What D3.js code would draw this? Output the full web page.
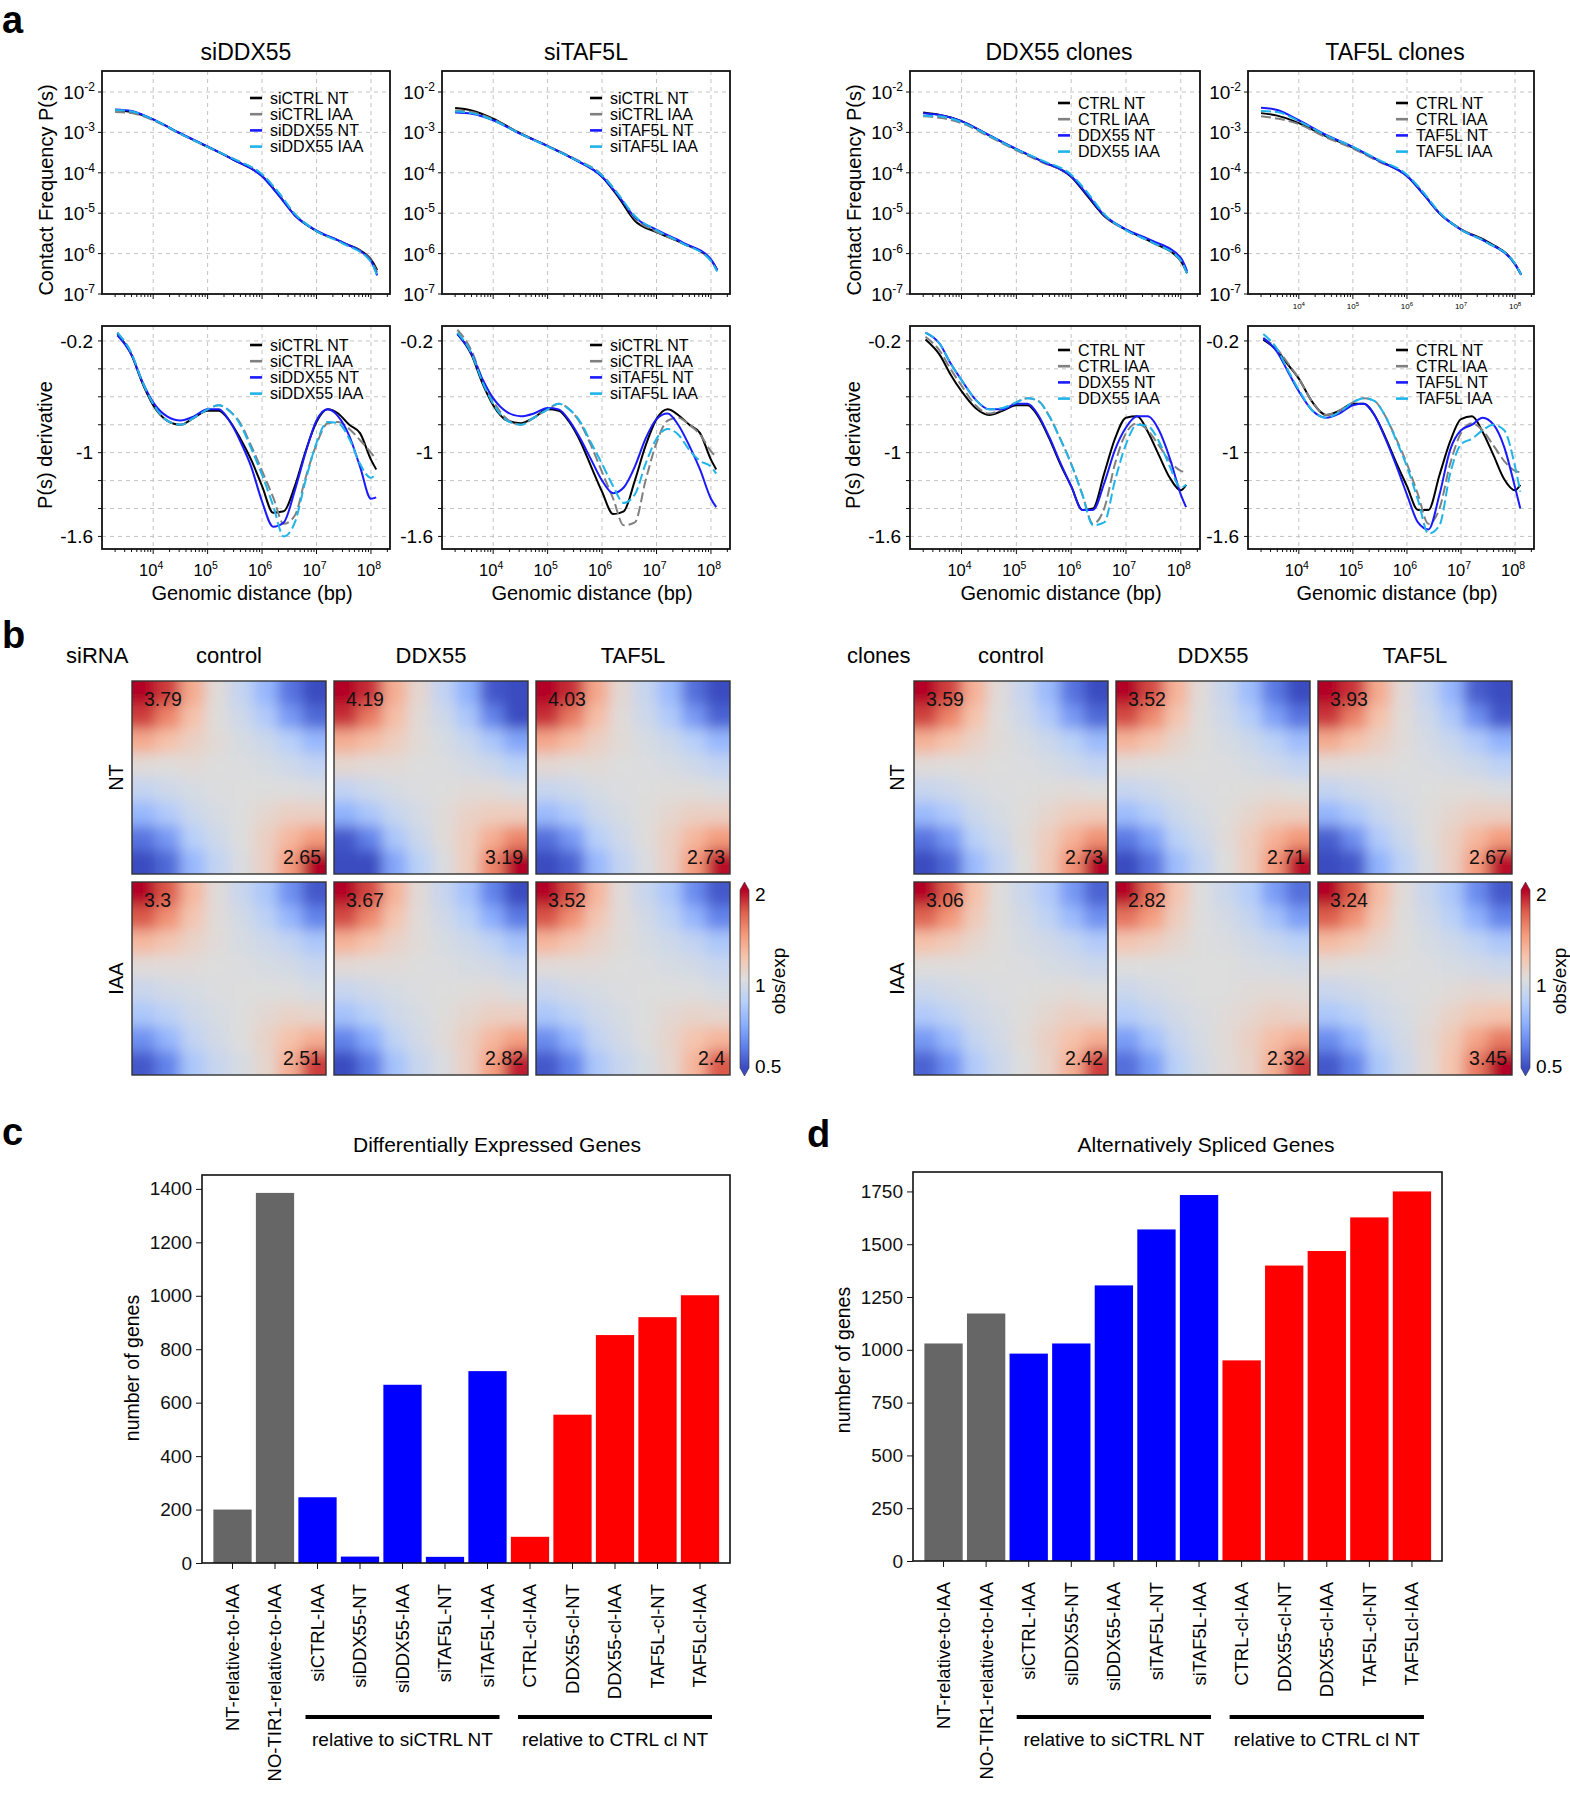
<!DOCTYPE html>
<html><head><meta charset="utf-8">
<script src="https://cdn.jsdelivr.net/npm/d3@7"></script>
<style>body{margin:0;background:#fff}svg{font-family:"Liberation Sans",Arial,Helvetica,sans-serif}</style>
</head><body>
<svg id="fig" width="1570" height="1800"></svg>
<script>
// ---------------- DATA ----------------
// genomic distances (bp) at which P(s) curves were read
const PS_DIST = [2000, 4000, 1e4, 3e4, 1e5, 3e5, 1e6, 2e6, 4e6, 1e7, 3e7, 1e8, 1.3e8];
// genomic distances (bp) at which derivative curves were read
const DER_DIST = [2200, 4000, 6300, 1e4, 1.8e4, 3.2e4, 5.6e4, 1e5, 1.6e5, 2.5e5, 4e5, 6.3e5, 1e6, 1.6e6, 2.5e6, 4e6, 6.3e6, 1e7, 1.6e7, 2.5e7, 4e7, 6.3e7, 1e8, 1.25e8];

const PS_TITLES = ["siDDX55", "siTAF5L", "DDX55 clones", "TAF5L clones"];
const LEGEND_SIDDX55 = ["siCTRL NT", "siCTRL IAA", "siDDX55 NT", "siDDX55 IAA"];
const LEGEND_SITAF5L = ["siCTRL NT", "siCTRL IAA", "siTAF5L NT", "siTAF5L IAA"];
const LEGEND_DDX55_CL = ["CTRL NT", "CTRL IAA", "DDX55 NT", "DDX55 IAA"];
const LEGEND_TAF5L_CL = ["CTRL NT", "CTRL IAA", "TAF5L NT", "TAF5L IAA"];

// contact frequency P(s): [NT ctrl, IAA ctrl, NT kd, IAA kd]
const PS_SIDDX55 = [
  [3.6e-3, 3.2e-3, 2.1e-3, 9.7e-4, 4.4e-4, 2.1e-4, 8.3e-5, 2.9e-5, 8.9e-6, 3.6e-6, 1.9e-6, 7.2e-7, 3.9e-7],
  [3.2e-3, 3.0e-3, 2.0e-3, 9.5e-4, 4.4e-4, 2.2e-4, 9.0e-5, 3.2e-5, 9.5e-6, 3.7e-6, 1.9e-6, 6.8e-7, 3.4e-7],
  [3.7e-3, 3.4e-3, 2.1e-3, 9.8e-4, 4.5e-4, 2.1e-4, 8.2e-5, 2.8e-5, 8.8e-6, 3.7e-6, 1.9e-6, 6.5e-7, 2.9e-7],
  [3.6e-3, 3.3e-3, 2.1e-3, 9.6e-4, 4.4e-4, 2.2e-4, 9.2e-5, 3.3e-5, 9.6e-6, 3.6e-6, 1.8e-6, 6.3e-7, 2.8e-7]];
const PS_SITAF5L = [
  [4.0e-3, 3.5e-3, 2.2e-3, 9.8e-4, 4.6e-4, 2.2e-4, 8.0e-5, 2.5e-5, 6.5e-6, 3.4e-6, 1.8e-6, 7.0e-7, 4.0e-7],
  [3.5e-3, 3.2e-3, 2.1e-3, 9.6e-4, 4.6e-4, 2.3e-4, 8.8e-5, 2.9e-5, 7.5e-6, 3.5e-6, 1.8e-6, 6.8e-7, 3.8e-7],
  [3.1e-3, 2.9e-3, 2.0e-3, 9.5e-4, 4.6e-4, 2.2e-4, 8.0e-5, 2.7e-5, 8.0e-6, 3.9e-6, 1.9e-6, 7.2e-7, 3.9e-7],
  [3.3e-3, 3.0e-3, 2.0e-3, 9.6e-4, 4.5e-4, 2.2e-4, 8.6e-5, 2.9e-5, 8.5e-6, 3.8e-6, 1.8e-6, 6.6e-7, 3.6e-7]];
const PS_DDX55_CL = [
  [3.1e-3, 2.7e-3, 1.9e-3, 8.8e-4, 3.8e-4, 1.9e-4, 8.0e-5, 2.6e-5, 8.5e-6, 3.9e-6, 1.9e-6, 6.5e-7, 3.3e-7],
  [2.5e-3, 2.3e-3, 1.7e-3, 8.2e-4, 3.6e-4, 1.8e-4, 8.5e-5, 3.0e-5, 9.0e-6, 3.8e-6, 1.9e-6, 6.6e-7, 3.3e-7],
  [3.0e-3, 2.7e-3, 1.9e-3, 8.9e-4, 3.9e-4, 1.9e-4, 8.2e-5, 2.8e-5, 9.0e-6, 4.0e-6, 2.1e-6, 7.8e-7, 3.7e-7],
  [2.6e-3, 2.5e-3, 1.8e-3, 8.7e-4, 3.8e-4, 2.0e-4, 9.0e-5, 3.2e-5, 9.5e-6, 3.8e-6, 1.9e-6, 6.8e-7, 3.2e-7]];
const PS_TAF5L_CL = [
  [3.0e-3, 2.6e-3, 1.7e-3, 8.3e-4, 4.2e-4, 2.0e-4, 8.3e-5, 3.0e-5, 1.0e-5, 4.0e-6, 2.0e-6, 5.5e-7, 3.0e-7],
  [2.5e-3, 2.2e-3, 1.6e-3, 7.8e-4, 4.0e-4, 1.9e-4, 8.5e-5, 3.2e-5, 1.0e-5, 4.0e-6, 1.9e-6, 5.5e-7, 3.0e-7],
  [4.1e-3, 3.6e-3, 2.0e-3, 9.0e-4, 4.4e-4, 2.0e-4, 8.3e-5, 3.0e-5, 1.0e-5, 3.9e-6, 1.9e-6, 5.4e-7, 3.0e-7],
  [3.4e-3, 3.2e-3, 1.9e-3, 8.8e-4, 4.4e-4, 2.1e-4, 9.0e-5, 3.3e-5, 1.05e-5, 3.9e-6, 1.9e-6, 5.6e-7, 3.0e-7]];

// P(s) derivative (slope)
const DER_SIDDX55 = [
  [-0.15,-0.30,-0.50,-0.66,-0.77,-0.80,-0.75,-0.70,-0.70,-0.77,-0.90,-1.05,-1.24,-1.43,-1.42,-1.24,-0.99,-0.78,-0.69,-0.72,-0.80,-0.86,-1.05,-1.12],
  [-0.14,-0.29,-0.49,-0.65,-0.77,-0.80,-0.75,-0.69,-0.66,-0.70,-0.79,-0.95,-1.13,-1.32,-1.51,-1.45,-1.18,-0.94,-0.79,-0.78,-0.83,-0.91,-1.00,-1.05],
  [-0.16,-0.30,-0.49,-0.64,-0.74,-0.77,-0.74,-0.69,-0.69,-0.77,-0.92,-1.10,-1.35,-1.53,-1.50,-1.27,-1.00,-0.77,-0.69,-0.74,-0.88,-1.10,-1.33,-1.32],
  [-0.14,-0.29,-0.49,-0.65,-0.77,-0.80,-0.75,-0.69,-0.66,-0.70,-0.80,-0.97,-1.16,-1.38,-1.60,-1.50,-1.20,-0.93,-0.78,-0.79,-0.90,-1.08,-1.18,-1.15]];
const DER_SITAF5L = [
  [-0.15,-0.30,-0.50,-0.66,-0.77,-0.79,-0.75,-0.69,-0.70,-0.78,-0.92,-1.10,-1.28,-1.44,-1.42,-1.20,-0.95,-0.76,-0.69,-0.73,-0.80,-0.86,-1.05,-1.12],
  [-0.12,-0.27,-0.47,-0.63,-0.76,-0.80,-0.75,-0.69,-0.65,-0.69,-0.79,-0.95,-1.14,-1.33,-1.52,-1.50,-1.20,-0.93,-0.77,-0.75,-0.80,-0.87,-0.99,-1.03],
  [-0.15,-0.29,-0.47,-0.61,-0.71,-0.74,-0.72,-0.68,-0.69,-0.77,-0.90,-1.05,-1.20,-1.29,-1.25,-1.10,-0.90,-0.76,-0.72,-0.80,-0.95,-1.12,-1.33,-1.39],
  [-0.14,-0.29,-0.49,-0.65,-0.77,-0.80,-0.75,-0.69,-0.65,-0.69,-0.78,-0.93,-1.08,-1.24,-1.36,-1.30,-1.08,-0.90,-0.83,-0.87,-0.98,-1.06,-1.10,-1.15]];
const DER_DDX55_CL = [
  [-0.19,-0.30,-0.44,-0.56,-0.68,-0.73,-0.70,-0.66,-0.66,-0.74,-0.90,-1.08,-1.24,-1.41,-1.40,-1.15,-0.90,-0.75,-0.74,-0.85,-1.02,-1.18,-1.27,-1.23],
  [-0.17,-0.27,-0.40,-0.52,-0.66,-0.72,-0.69,-0.64,-0.61,-0.63,-0.74,-0.90,-1.08,-1.30,-1.51,-1.40,-1.08,-0.86,-0.79,-0.84,-0.95,-1.06,-1.13,-1.14],
  [-0.14,-0.22,-0.36,-0.48,-0.62,-0.69,-0.69,-0.65,-0.65,-0.73,-0.89,-1.07,-1.24,-1.41,-1.41,-1.22,-0.98,-0.82,-0.74,-0.74,-0.84,-1.04,-1.30,-1.39],
  [-0.14,-0.22,-0.36,-0.48,-0.62,-0.69,-0.68,-0.64,-0.61,-0.63,-0.74,-0.90,-1.08,-1.30,-1.52,-1.50,-1.20,-0.94,-0.80,-0.81,-0.92,-1.10,-1.25,-1.23]];
const DER_TAF5L_CL = [
  [-0.19,-0.27,-0.37,-0.47,-0.64,-0.73,-0.70,-0.65,-0.65,-0.73,-0.89,-1.07,-1.24,-1.41,-1.41,-1.16,-0.92,-0.76,-0.74,-0.85,-1.02,-1.19,-1.27,-1.23],
  [-0.18,-0.26,-0.36,-0.47,-0.64,-0.73,-0.70,-0.64,-0.61,-0.63,-0.74,-0.90,-1.08,-1.30,-1.51,-1.40,-1.08,-0.86,-0.79,-0.84,-0.95,-1.06,-1.13,-1.14],
  [-0.18,-0.28,-0.42,-0.56,-0.70,-0.75,-0.72,-0.66,-0.65,-0.73,-0.90,-1.09,-1.30,-1.50,-1.55,-1.30,-0.98,-0.84,-0.80,-0.75,-0.80,-0.96,-1.25,-1.40],
  [-0.15,-0.26,-0.41,-0.55,-0.70,-0.75,-0.71,-0.64,-0.61,-0.63,-0.74,-0.91,-1.10,-1.34,-1.58,-1.52,-1.15,-0.94,-0.90,-0.84,-0.80,-0.84,-1.10,-1.28]];

// saddle plots (obs/exp), symmetric 8x8 matrices stored as upper triangles (row i, columns i..7)
const SADDLE_SI_NT_CONTROL = [[2.5,1.8,1.32,1.02,0.89,0.74,0.57,0.48],[1.5,1.2,1.01,0.93,0.82,0.65,0.55],[1.1,1.03,0.97,0.92,0.84,0.74],[1.0,0.99,0.97,0.93,0.88],[1.0,1.0,1.0,0.98],[1.05,1.1,1.1],[1.25,1.4],[2.0]];
const SADDLE_SI_NT_DDX55 = [[2.6,1.85,1.3,1.05,0.88,0.72,0.52,0.45],[1.55,1.22,1.03,0.93,0.8,0.6,0.48],[1.12,1.03,0.97,0.9,0.8,0.68],[1.0,0.99,0.96,0.92,0.85],[1.0,1.02,1.02,0.98],[1.08,1.12,1.12],[1.3,1.5],[2.2]];
const SADDLE_SI_NT_TAF5L = [[2.6,1.85,1.34,1.04,0.9,0.75,0.56,0.48],[1.55,1.22,1.02,0.93,0.82,0.65,0.54],[1.1,1.03,0.97,0.92,0.84,0.74],[1.0,0.99,0.97,0.93,0.88],[1.0,1.01,1.01,0.98],[1.05,1.1,1.1],[1.25,1.4],[1.95]];
const SADDLE_SI_IAA_CONTROL = [[2.3,1.7,1.25,1.02,0.91,0.8,0.63,0.52],[1.45,1.17,1.02,0.95,0.86,0.73,0.6],[1.08,1.02,0.97,0.93,0.88,0.8],[1.0,0.99,0.97,0.95,0.9],[1.0,1.0,1.0,0.97],[1.04,1.08,1.06],[1.2,1.3],[1.8]];
const SADDLE_SI_IAA_DDX55 = [[2.45,1.75,1.28,1.03,0.9,0.78,0.6,0.5],[1.48,1.18,1.02,0.94,0.85,0.7,0.58],[1.08,1.02,0.97,0.93,0.87,0.78],[1.0,0.99,0.97,0.95,0.9],[1.0,1.01,1.02,0.98],[1.05,1.1,1.1],[1.25,1.38],[1.9]];
const SADDLE_SI_IAA_TAF5L = [[2.4,1.72,1.26,1.02,0.91,0.8,0.62,0.52],[1.45,1.17,1.02,0.95,0.86,0.73,0.6],[1.08,1.02,0.97,0.93,0.88,0.8],[1.0,0.99,0.97,0.95,0.9],[1.0,1.0,1.0,0.97],[1.04,1.07,1.05],[1.18,1.26],[1.7]];
const SADDLE_CL_NT_CONTROL = [[2.45,1.78,1.28,1.02,0.9,0.75,0.57,0.47],[1.5,1.19,1.01,0.93,0.82,0.65,0.55],[1.08,1.02,0.97,0.92,0.85,0.75],[1.0,0.99,0.97,0.93,0.88],[1.0,1.01,1.02,1.0],[1.06,1.12,1.14],[1.28,1.45],[2.0]];
const SADDLE_CL_NT_DDX55 = [[2.4,1.75,1.27,1.02,0.9,0.76,0.58,0.48],[1.48,1.18,1.01,0.93,0.83,0.67,0.57],[1.07,1.01,0.97,0.92,0.85,0.76],[1.0,0.99,0.97,0.93,0.88],[1.0,1.01,1.02,1.0],[1.06,1.12,1.12],[1.28,1.42],[1.95]];
const SADDLE_CL_NT_TAF5L = [[2.6,1.82,1.32,1.03,0.89,0.73,0.53,0.45],[1.52,1.2,1.02,0.93,0.81,0.63,0.52],[1.1,1.02,0.96,0.9,0.82,0.72],[1.0,0.98,0.96,0.92,0.86],[1.0,1.01,1.01,0.98],[1.05,1.1,1.1],[1.25,1.4],[1.95]];
const SADDLE_CL_IAA_CONTROL = [[2.3,1.65,1.2,1.01,0.92,0.82,0.65,0.54],[1.42,1.14,1.01,0.95,0.87,0.75,0.63],[1.06,1.01,0.97,0.94,0.89,0.82],[1.0,0.99,0.97,0.95,0.92],[1.0,1.01,1.02,1.0],[1.05,1.1,1.08],[1.2,1.3],[1.8]];
const SADDLE_CL_IAA_DDX55 = [[2.2,1.58,1.17,1.0,0.92,0.83,0.66,0.56],[1.38,1.12,1.0,0.96,0.89,0.78,0.66],[1.05,1.0,0.98,0.95,0.9,0.85],[1.0,1.0,0.98,0.97,0.95],[1.0,1.02,1.03,1.02],[1.05,1.1,1.08],[1.22,1.3],[1.8]];
const SADDLE_CL_IAA_TAF5L = [[2.4,1.68,1.23,1.02,0.91,0.8,0.62,0.52],[1.45,1.16,1.01,0.94,0.85,0.72,0.6],[1.07,1.01,0.97,0.93,0.87,0.8],[1.0,0.99,0.97,0.95,0.92],[1.0,1.02,1.04,1.03],[1.08,1.15,1.18],[1.35,1.55],[2.2]];

// compartment strengths printed in the corners [row NT, row IAA] x [control, DDX55, TAF5L]
const SI_STRENGTH_TL = [[3.79, 4.19, 4.03], [3.3, 3.67, 3.52]];
const SI_STRENGTH_BR = [[2.65, 3.19, 2.73], [2.51, 2.82, 2.4]];
const CL_STRENGTH_TL = [[3.59, 3.52, 3.93], [3.06, 2.82, 3.24]];
const CL_STRENGTH_BR = [[2.73, 2.71, 2.67], [2.42, 2.32, 3.45]];
const HM_COLS = ["control", "DDX55", "TAF5L"];
const HM_ROWS = ["NT", "IAA"];
const CBAR_TICKS = [0.5, 1, 2];

// bar charts
const BAR_CATS = ["NT-relative-to-IAA", "NO-TIR1-relative-to-IAA", "siCTRL-IAA", "siDDX55-NT", "siDDX55-IAA", "siTAF5L-NT", "siTAF5L-IAA", "CTRL-cl-IAA", "DDX55-cl-NT", "DDX55-cl-IAA", "TAF5L-cl-NT", "TAF5Lcl-IAA"];
const BAR_GROUP = ["ctrl", "ctrl", "si", "si", "si", "si", "si", "cl", "cl", "cl", "cl", "cl"];
const DEG_VALUES = [200, 1385, 246, 24, 667, 23, 718, 98, 555, 853, 920, 1002];
const ASG_VALUES = [1030, 1172, 982, 1030, 1305, 1570, 1733, 950, 1399, 1468, 1627, 1750];
const DEG_TICKS = [0, 200, 400, 600, 800, 1000, 1200, 1400];
const ASG_TICKS = [0, 250, 500, 750, 1000, 1250, 1500, 1750];

// ---------------- DRAWING ----------------
const svg = d3.select("#fig");
const defs = svg.append("defs");
const LINE_STYLE = [
  {color: "#000000", dash: null},
  {color: "#808080", dash: "10,4"},
  {color: "#1a1aff", dash: null},
  {color: "#1fb4ea", dash: "10,4"}];
const GRID = "#c4c4c4";

// panel letters
[["a", 2, 33], ["b", 2, 648], ["c", 2, 1145], ["d", 807, 1147]].forEach(([t, x, y]) =>
  svg.append("text").attr("x", x).attr("y", y).attr("font-size", 38).attr("font-weight", "bold").text(t));

const X_DOMAIN = [Math.pow(10, 3.06), Math.pow(10, 8.35)];
const PANELS_X = [[102, 390], [442, 730], [910, 1200], [1248, 1534]];
const TOP_Y = [71, 294], BOT_Y = [326, 549];

function powLabel(g, x, y, exp, anchor, fs, sfs) {
  const t = g.append("text").attr("x", x).attr("y", y).attr("text-anchor", anchor).attr("font-size", fs);
  t.append("tspan").text("10");
  t.append("tspan").attr("dy", -fs * 0.42).attr("font-size", sfs).text(String(exp));
  return t;
}

function xAxisDecor(g, x, y0, y1, labels, smallLabels) {
  const majors = [1e4, 1e5, 1e6, 1e7, 1e8];
  majors.forEach(v => g.append("line").attr("x1", x(v)).attr("x2", x(v)).attr("y1", y0).attr("y2", y1)
    .attr("stroke", GRID).attr("stroke-dasharray", "4,4"));
  const minors = [];
  for (let e = 3; e <= 8; e++) for (let k = 1; k <= 9; k++) {
    const v = k * Math.pow(10, e);
    if (v >= X_DOMAIN[0] && v <= X_DOMAIN[1]) minors.push([v, k === 1]);
  }
  minors.forEach(([v, maj]) => g.append("line").attr("x1", x(v)).attr("x2", x(v))
    .attr("y1", y1).attr("y2", y1 + (maj ? 5 : 3)).attr("stroke", "#111").attr("stroke-width", 1));
  if (labels) majors.forEach(v => {
    const e = Math.round(Math.log10(v));
    powLabel(g, x(v) - 2, 576, e, "middle", 16.5, 10.5);
  });
  if (smallLabels) majors.forEach(v => {
    const e = Math.round(Math.log10(v));
    powLabel(g, x(v), y1 + 15, e, "middle", 8, 6);
  });
}

function legend(g, x0, ytop, labels) {
  labels.forEach((lab, i) => {
    const yy = ytop + i * 16.2;
    const s = LINE_STYLE[i];
    g.append("line").attr("x1", x0 + 148).attr("x2", x0 + 160).attr("y1", yy).attr("y2", yy)
      .attr("stroke", s.color).attr("stroke-width", 2.6);
    g.append("text").attr("x", x0 + 168).attr("y", yy).attr("dy", "0.35em").attr("font-size", 16).text(lab);
  });
}

function psPanel(pi, series, labels, showYLabel, smallX) {
  const [x0, x1] = PANELS_X[pi];
  const [y0, y1] = TOP_Y;
  const g = svg.append("g");
  const x = d3.scaleLog().domain(X_DOMAIN).range([x0, x1]);
  const y = d3.scaleLog().domain([1e-7, Math.pow(10, -1.48)]).range([y1, y0]);
  [1e-6, 1e-5, 1e-4, 1e-3, 1e-2].forEach(v => g.append("line").attr("x1", x0).attr("x2", x1)
    .attr("y1", y(v)).attr("y2", y(v)).attr("stroke", GRID).attr("stroke-dasharray", "4,4"));
  xAxisDecor(g, x, y0, y1, false, smallX);
  [-7, -6, -5, -4, -3, -2].forEach(e => {
    const yy = y(Math.pow(10, e));
    g.append("line").attr("x1", x0 - 4).attr("x2", x0).attr("y1", yy).attr("y2", yy).attr("stroke", "#111");
    powLabel(g, x0 - 7, yy + 7, e, "end", 19, 12);
  });
  const line = d3.line().x(d => x(d[0])).y(d => y(d[1])).curve(d3.curveMonotoneX);
  series.forEach((vals, i) => {
    const s = LINE_STYLE[i];
    g.append("path").attr("d", line(d3.zip(PS_DIST, vals))).attr("fill", "none")
      .attr("stroke", s.color).attr("stroke-width", 2).attr("stroke-dasharray", s.dash);
  });
  g.append("rect").attr("x", x0).attr("y", y0).attr("width", x1 - x0).attr("height", y1 - y0)
    .attr("fill", "none").attr("stroke", "#111").attr("stroke-width", 1.8);
  legend(g, x0, 98 + (pi >= 2 ? 5 : 0), labels);
  g.append("text").attr("x", (x0 + x1) / 2 + (pi >= 2 ? 4 : 0)).attr("y", 60).attr("text-anchor", "middle")
    .attr("font-size", 23).text(PS_TITLES[pi]);
  if (showYLabel) g.append("text").attr("transform", `translate(${x0 - 56},190) rotate(-90)`)
    .attr("text-anchor", "middle").attr("dy", "0.35em").attr("font-size", 20).text("Contact Frequency P(s)");
}

function derPanel(pi, series, labels, showYLabel) {
  const [x0, x1] = PANELS_X[pi];
  const [y0, y1] = BOT_Y;
  const g = svg.append("g");
  const x = d3.scaleLog().domain(X_DOMAIN).range([x0, x1]);
  const y = d3.scaleLinear().domain([-1.69, -0.093]).range([y1, y0]);
  const levels = [-1.6, -1.4, -1.2, -1.0, -0.8, -0.6, -0.4, -0.2];
  levels.forEach(v => {
    g.append("line").attr("x1", x0).attr("x2", x1).attr("y1", y(v)).attr("y2", y(v))
      .attr("stroke", GRID).attr("stroke-dasharray", "4,4");
    g.append("line").attr("x1", x0 - 4).attr("x2", x0).attr("y1", y(v)).attr("y2", y(v)).attr("stroke", "#111");
  });
  [[-0.2, "-0.2"], [-1, "-1"], [-1.6, "-1.6"]].forEach(([v, t]) =>
    g.append("text").attr("x", x0 - 9).attr("y", y(v)).attr("dy", "0.35em").attr("text-anchor", "end")
      .attr("font-size", 19).text(t));
  xAxisDecor(g, x, y0, y1, true, false);
  const line = d3.line().x(d => x(d[0])).y(d => y(d[1])).curve(d3.curveMonotoneX);
  series.forEach((vals, i) => {
    const s = LINE_STYLE[i];
    g.append("path").attr("d", line(d3.zip(DER_DIST, vals))).attr("fill", "none")
      .attr("stroke", s.color).attr("stroke-width", 2).attr("stroke-dasharray", s.dash);
  });
  g.append("rect").attr("x", x0).attr("y", y0).attr("width", x1 - x0).attr("height", y1 - y0)
    .attr("fill", "none").attr("stroke", "#111").attr("stroke-width", 1.8);
  legend(g, x0, 345 + (pi >= 2 ? 5 : 0), labels);
  g.append("text").attr("x", (x0 + x1) / 2 + 6).attr("y", 600).attr("text-anchor", "middle")
    .attr("font-size", 20).text("Genomic distance (bp)");
  if (showYLabel) g.append("text").attr("transform", `translate(${x0 - 57},445) rotate(-90)`)
    .attr("text-anchor", "middle").attr("dy", "0.35em").attr("font-size", 20).text("P(s) derivative");
}

psPanel(0, PS_SIDDX55, LEGEND_SIDDX55, true, false);
psPanel(1, PS_SITAF5L, LEGEND_SITAF5L, false, false);
psPanel(2, PS_DDX55_CL, LEGEND_DDX55_CL, true, false);
psPanel(3, PS_TAF5L_CL, LEGEND_TAF5L_CL, false, true);
derPanel(0, DER_SIDDX55, LEGEND_SIDDX55, true);
derPanel(1, DER_SITAF5L, LEGEND_SITAF5L, false);
derPanel(2, DER_DDX55_CL, LEGEND_DDX55_CL, true);
derPanel(3, DER_TAF5L_CL, LEGEND_TAF5L_CL, false);

// ---------------- b: saddle plots ----------------
const COOLWARM = ["#3b4cc0", "#6282ea", "#8db0fe", "#b8d0f9", "#dddddd", "#f5c4ad", "#f49a7b", "#de604d", "#b40426"];
const cwInterp = d3.piecewise(d3.interpolateRgb, COOLWARM);
const cwT = d3.scaleLog().domain([0.5, 2]).range([0, 1]).clamp(true);
const color = v => cwInterp(cwT(v));

defs.append("filter").attr("id", "hmBlur").attr("x", "-20%").attr("y", "-20%").attr("width", "140%").attr("height", "140%")
  .append("feGaussianBlur").attr("stdDeviation", 7);
let clipN = 0;
const HM_W = 194, HM_H = 193;

function heatmap(x0, y0, tri, tl, br) {
  const n = tri.length;
  const cells = [];
  for (let i = 0; i < n; i++) for (let j = 0; j < n; j++) {
    const v = j >= i ? tri[i][j - i] : tri[j][i - j];
    cells.push({i, j, v});
  }
  const bx = d3.scaleBand().domain(d3.range(n)).range([x0, x0 + HM_W]);
  const by = d3.scaleBand().domain(d3.range(n)).range([y0, y0 + HM_H]);
  const pad = 26;
  const id = "hmclip" + (clipN++);
  defs.append("clipPath").attr("id", id).append("rect").attr("x", x0).attr("y", y0).attr("width", HM_W).attr("height", HM_H);
  const g = svg.append("g").attr("clip-path", `url(#${id})`).append("g").attr("filter", "url(#hmBlur)");
  g.selectAll("rect").data(cells).join("rect")
    .attr("x", d => bx(d.j) - (d.j === 0 ? pad : 0))
    .attr("y", d => by(d.i) - (d.i === 0 ? pad : 0))
    .attr("width", d => bx.bandwidth() + 0.6 + (d.j === 0 ? pad : 0) + (d.j === n - 1 ? pad : 0))
    .attr("height", d => by.bandwidth() + 0.6 + (d.i === 0 ? pad : 0) + (d.i === n - 1 ? pad : 0))
    .attr("fill", d => color(d.v));
  svg.append("rect").attr("x", x0).attr("y", y0).attr("width", HM_W).attr("height", HM_H)
    .attr("fill", "none").attr("stroke", "#333").attr("stroke-width", 1.4);
  svg.append("text").attr("x", x0 + 12).attr("y", y0 + 25).attr("font-size", 19.5).attr("fill", "#111").text(tl);
  svg.append("text").attr("x", x0 + HM_W - 5).attr("y", y0 + HM_H - 10).attr("text-anchor", "end")
    .attr("font-size", 19.5).attr("fill", "#111").text(br);
}

function colorbar(x, id) {
  const yTop = 890, yBot = 1068, w = 9;
  const grad = defs.append("linearGradient").attr("id", id).attr("x1", 0).attr("y1", 1).attr("x2", 0).attr("y2", 0);
  COOLWARM.forEach((c, k) => grad.append("stop").attr("offset", k / (COOLWARM.length - 1)).attr("stop-color", c));
  svg.append("rect").attr("x", x).attr("y", yTop).attr("width", w).attr("height", yBot - yTop).attr("fill", `url(#${id})`);
  svg.append("path").attr("d", `M${x},${yTop}L${x + w},${yTop}L${x + w / 2},${yTop - 8}Z`).attr("fill", COOLWARM[8]);
  svg.append("path").attr("d", `M${x},${yBot}L${x + w},${yBot}L${x + w / 2},${yBot + 8}Z`).attr("fill", COOLWARM[0]);
  svg.append("path").attr("d", `M${x},${yTop}L${x + w / 2},${yTop - 8}L${x + w},${yTop}L${x + w},${yBot}L${x + w / 2},${yBot + 8}L${x},${yBot}Z`)
    .attr("fill", "none").attr("stroke", "#333").attr("stroke-width", 0.6);
  const s = d3.scaleLog().domain([0.5, 2]).range([yBot, yTop]);
  CBAR_TICKS.forEach(v => svg.append("text").attr("x", x + w + 6).attr("y", s(v) + (v === 2 ? 4 : v === 0.5 ? -2 : 6))
    .attr("dy", "0.35em").attr("font-size", 19).text(String(v)));
  svg.append("text").attr("transform", `translate(${x + w + 29},981) rotate(-90)`).attr("text-anchor", "middle")
    .attr("dy", "0.35em").attr("font-size", 19).text("obs/exp");
}

function saddleBlock(colX, rowY, corner, mats, tl, br, rowLabelX) {
  svg.append("text").attr("x", corner[0]).attr("y", 663).attr("font-size", 22).text(corner[1]);
  HM_COLS.forEach((c, k) => svg.append("text").attr("x", colX[k] + HM_W / 2).attr("y", 663)
    .attr("text-anchor", "middle").attr("font-size", 22).text(c));
  HM_ROWS.forEach((r, ri) => svg.append("text").attr("transform", `translate(${rowLabelX},${rowY[ri] + HM_H / 2}) rotate(-90)`)
    .attr("text-anchor", "middle").attr("dy", "0.35em").attr("font-size", 20).text(r));
  mats.forEach((row, ri) => row.forEach((m, ci) => heatmap(colX[ci], rowY[ri], m, tl[ri][ci], br[ri][ci])));
}

saddleBlock([132, 334, 536], [681, 882], [66, "siRNA"],
  [[SADDLE_SI_NT_CONTROL, SADDLE_SI_NT_DDX55, SADDLE_SI_NT_TAF5L], [SADDLE_SI_IAA_CONTROL, SADDLE_SI_IAA_DDX55, SADDLE_SI_IAA_TAF5L]],
  SI_STRENGTH_TL, SI_STRENGTH_BR, 116);
colorbar(740, "cbL");
saddleBlock([914, 1116, 1318], [681, 882], [847, "clones"],
  [[SADDLE_CL_NT_CONTROL, SADDLE_CL_NT_DDX55, SADDLE_CL_NT_TAF5L], [SADDLE_CL_IAA_CONTROL, SADDLE_CL_IAA_DDX55, SADDLE_CL_IAA_TAF5L]],
  CL_STRENGTH_TL, CL_STRENGTH_BR, 897);
colorbar(1521, "cbR");

// ---------------- c, d: bar charts ----------------
const BAR_COLOR = {ctrl: "#666666", si: "#0000ff", cl: "#ff0000"};
function barChart(cfg) {
  const {x0, x1, y0, y1, values, ymax, ticks, title, titleX, ylabX, ylabY} = cfg;
  const g = svg.append("g");
  const x = d3.scaleBand().domain(BAR_CATS).range([x0 + 9.25, x1 - 8.75]).paddingInner(0.1).paddingOuter(0.05);
  const y = d3.scaleLinear().domain([0, ymax]).range([y1, y0]);
  g.selectAll("rect.bar").data(BAR_CATS).join("rect").attr("class", "bar")
    .attr("x", d => x(d)).attr("width", x.bandwidth())
    .attr("y", (d, i) => y(values[i])).attr("height", (d, i) => y1 - y(values[i]))
    .attr("fill", (d, i) => BAR_COLOR[BAR_GROUP[i]]);
  g.append("rect").attr("x", x0).attr("y", y0).attr("width", x1 - x0).attr("height", y1 - y0)
    .attr("fill", "none").attr("stroke", "#111").attr("stroke-width", 1.6);
  const ax = g.append("g").attr("transform", `translate(${x0},0)`)
    .call(d3.axisLeft(y).tickValues(ticks).tickSize(6).tickPadding(4).tickFormat(d3.format("d")));
  ax.select(".domain").remove();
  ax.selectAll("text").attr("font-size", 19).attr("font-family", null).attr("fill", "#111");
  ax.selectAll("line").attr("stroke", "#111");
  BAR_CATS.forEach(c => {
    const cx = x(c) + x.bandwidth() / 2;
    g.append("line").attr("x1", cx).attr("x2", cx).attr("y1", y1).attr("y2", y1 + 6).attr("stroke", "#111");
    g.append("text").attr("transform", `translate(${cx},${y1 + 21}) rotate(-90)`).attr("text-anchor", "end")
      .attr("dy", "0.35em").attr("font-size", 18.5).text(c);
  });
  [["si", "relative to siCTRL NT"], ["cl", "relative to CTRL cl NT"]].forEach(([grp, lab]) => {
    const cats = BAR_CATS.filter((c, i) => BAR_GROUP[i] === grp);
    const a = x(cats[0]) + x.bandwidth() / 2 - 12;
    const b = x(cats[cats.length - 1]) + x.bandwidth() / 2 + 12;
    g.append("line").attr("x1", a).attr("x2", b).attr("y1", 1717).attr("y2", 1717).attr("stroke", "#000").attr("stroke-width", 4);
    g.append("text").attr("x", (a + b) / 2).attr("y", 1746).attr("text-anchor", "middle").attr("font-size", 19).text(lab);
  });
  g.append("text").attr("x", titleX).attr("y", 1152).attr("text-anchor", "middle").attr("font-size", 21).text(title);
  g.append("text").attr("transform", `translate(${ylabX},${ylabY}) rotate(-90)`).attr("text-anchor", "middle")
    .attr("dy", "0.35em").attr("font-size", 19.5).text("number of genes");
}
barChart({x0: 202, x1: 730, y0: 1175, y1: 1563, values: DEG_VALUES, ymax: 1452, ticks: DEG_TICKS,
  title: "Differentially Expressed Genes", titleX: 497, ylabX: 132, ylabY: 1368});
barChart({x0: 913, x1: 1442, y0: 1172, y1: 1561, values: ASG_VALUES, ymax: 1842, ticks: ASG_TICKS,
  title: "Alternatively Spliced Genes", titleX: 1206, ylabX: 843, ylabY: 1360});
</script>
</body></html>
